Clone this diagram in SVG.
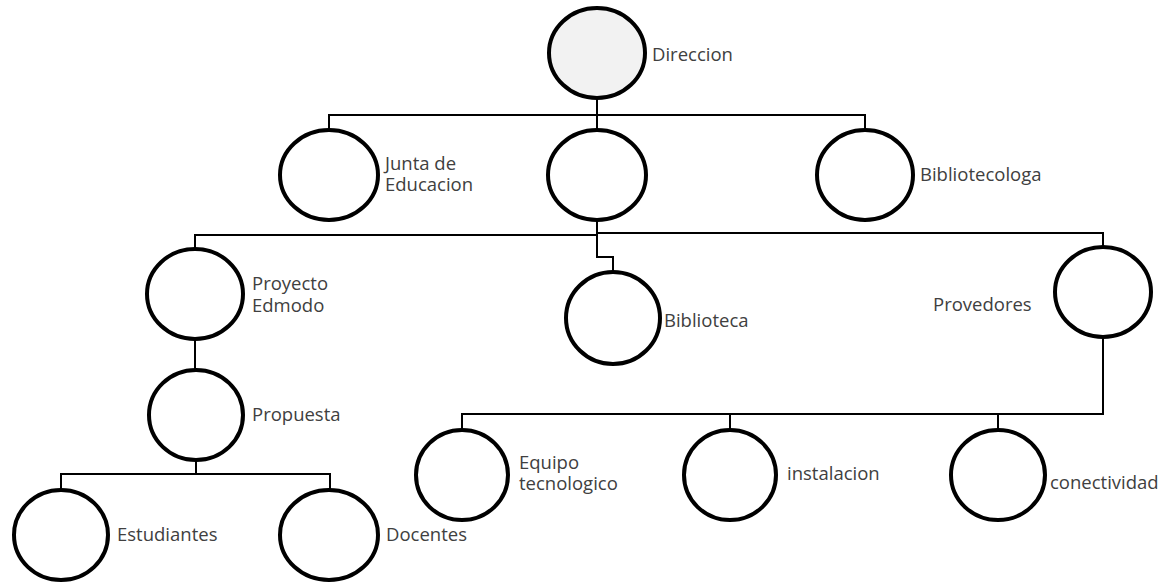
<svg xmlns="http://www.w3.org/2000/svg" width="1176" height="582" viewBox="0 0 1176 582">
<style>
.n{fill:#fff;stroke:#000;stroke-width:4}
.root{fill:#f2f2f2}
.c{fill:none;stroke:#000;stroke-width:2}
text{font-family:"Open Sans","Liberation Sans",sans-serif;font-size:18.5px;fill:#404040}
</style>
<rect width="1176" height="582" fill="#fff"/>
<g id="connectors">
<path class="c" d="M597 98V115M329 130V115H865V130M597 115V130"/>
<path class="c" d="M597 220V257H613V272M195 249V235H597M597 233H1103V247"/>
<path class="c" d="M195 338V370M196 460V474M61 490V474H330V490"/>
<path class="c" d="M1103 337V414H462V430M730 414V430M998 414V430"/>
</g>
<g id="n-direccion"><ellipse class="n root" cx="597" cy="53" rx="48" ry="45"/><text x="652" y="61">Direccion</text></g>
<g id="n-junta"><ellipse class="n" cx="329" cy="175" rx="49" ry="45"/><text x="385" y="170">Junta de<tspan x="385" dy="21">Educacion</tspan></text></g>
<g id="n-mid"><ellipse class="n" cx="597" cy="175" rx="49" ry="45"/></g>
<g id="n-bibliotecologa"><ellipse class="n" cx="865" cy="175" rx="48" ry="45"/><text x="920" y="181">Bibliotecologa</text></g>
<g id="n-proyecto"><ellipse class="n" cx="195" cy="294" rx="48" ry="45"/><text x="252" y="290">Proyecto<tspan x="252" dy="22">Edmodo</tspan></text></g>
<g id="n-biblioteca"><ellipse class="n" cx="613" cy="318" rx="47" ry="46"/><text x="664" y="327">Biblioteca</text></g>
<g id="n-provedores"><ellipse class="n" cx="1103" cy="292" rx="48" ry="45"/><text x="933" y="311">Provedores</text></g>
<g id="n-propuesta"><ellipse class="n" cx="196" cy="415" rx="47" ry="45"/><text x="252" y="421">Propuesta</text></g>
<g id="n-estudiantes"><ellipse class="n" cx="61" cy="535" rx="47" ry="45"/><text x="117" y="541">Estudiantes</text></g>
<g id="n-docentes"><ellipse class="n" cx="329" cy="535" rx="49" ry="45"/><text x="386" y="541">Docentes</text></g>
<g id="n-equipo"><ellipse class="n" cx="462" cy="475" rx="46" ry="45"/><text x="519" y="469">Equipo<tspan x="519" dy="21">tecnologico</tspan></text></g>
<g id="n-instalacion"><ellipse class="n" cx="730" cy="475" rx="46" ry="45"/><text x="787" y="480">instalacion</text></g>
<g id="n-conectividad"><ellipse class="n" cx="998" cy="475" rx="47" ry="45"/><text x="1050" y="489">conectividad</text></g>
</svg>
